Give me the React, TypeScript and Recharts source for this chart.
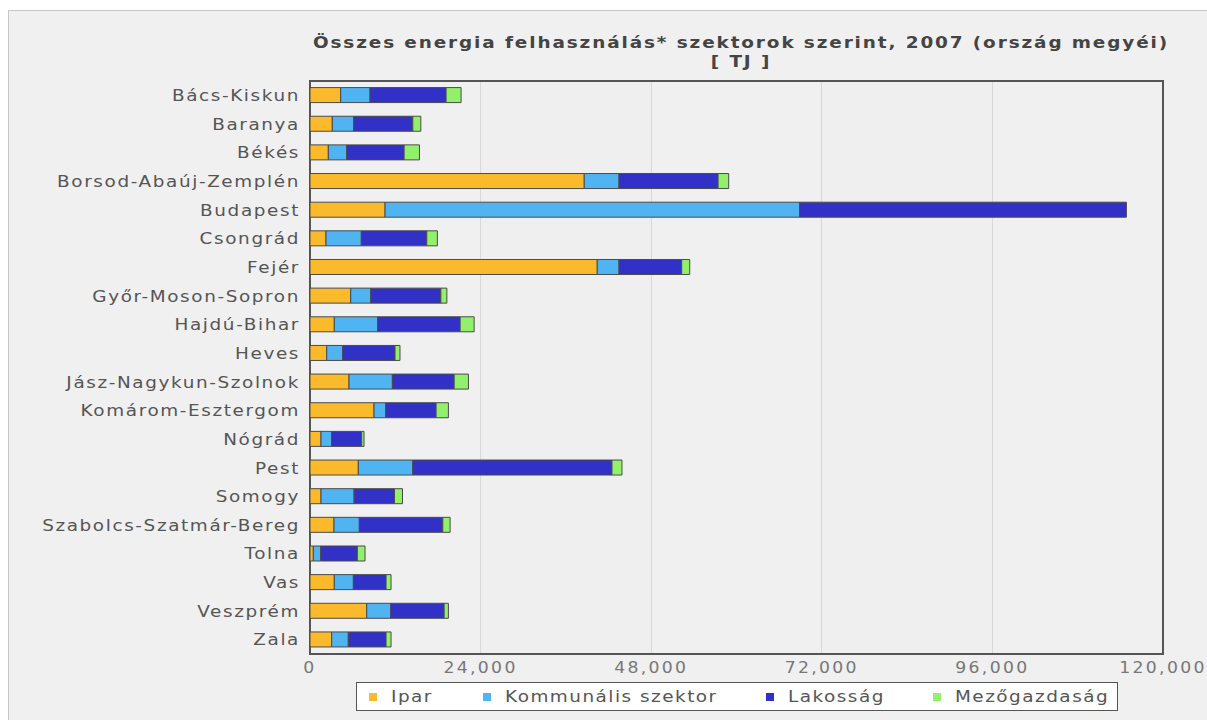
import React from 'react';
import { BarChart, Bar, XAxis, YAxis, CartesianGrid, ReferenceArea } from 'recharts';

// Counties of Hungary (plus Budapest)
const counties = [
  'Bács-Kiskun',
  'Baranya',
  'Békés',
  'Borsod-Abaúj-Zemplén',
  'Budapest',
  'Csongrád',
  'Fejér',
  'Győr-Moson-Sopron',
  'Hajdú-Bihar',
  'Heves',
  'Jász-Nagykun-Szolnok',
  'Komárom-Esztergom',
  'Nógrád',
  'Pest',
  'Somogy',
  'Szabolcs-Szatmár-Bereg',
  'Tolna',
  'Vas',
  'Veszprém',
  'Zala',
];

// Energy use by sector, TJ
const ipar = [4320, 3140, 2580, 38580, 10560, 2250, 40410, 5730, 3420, 2350, 5490, 9010, 1550, 6800, 1550, 3380, 470, 3420, 7980, 3050];
const kommunalis = [4125, 3010, 2590, 4890, 58330, 4970, 3060, 2820, 6110, 2250, 6100, 1650, 1500, 7660, 4650, 3560, 1040, 2680, 3380, 2340];
const lakossag = [10700, 8310, 8070, 13940, 45960, 9210, 8820, 9860, 11590, 7360, 8690, 7080, 4220, 28020, 5680, 11740, 5150, 4600, 7510, 5310];
const mezogazdasag = [2110, 1130, 2160, 1490, 0, 1490, 1130, 845, 1970, 700, 2010, 1730, 330, 1410, 1130, 1030, 1080, 700, 600, 700];

const xTicks = [0, 24000, 48000, 72000, 96000, 120000];

const seriesNames = ['Ipar', 'Kommunális szektor', 'Lakosság', 'Mezőgazdaság'];
const seriesKeys = ['ipar', 'kommunalis', 'lakossag', 'mezogazdasag'];
const seriesColors = ['#FBBA2B', '#50B4F2', '#3131C8', '#92F06C'];

const titleLine1 = 'Összes energia felhasználás* szektorok szerint, 2007 (ország megyéi)';
const titleLine2 = '[ TJ ]';

const data = counties.map((name, i) => ({
  name,
  ipar: ipar[i],
  kommunalis: kommunalis[i],
  lakossag: lakossag[i],
  mezogazdasag: mezogazdasag[i],
}));

// every second interval between ticks is shaded
const shadedBands = xTicks.slice(0, -1).map((t, i) => [t, xTicks[i + 1]]).filter((_, i) => i % 2 === 1);

const FONT = '"DejaVu Sans", Verdana, sans-serif';
const STRETCH = 1.15; // wide Verdana-like lettering

const formatThousands = (v: number) => v.toLocaleString('en-US');

// left offsets of the legend entries inside the legend box
const legendOffsets = [12, 126, 409, 576];

const CategoryTick = (props: any) => {
  const { x, y, payload } = props;
  return (
    <text
      transform={`translate(${x},${y}) scale(${STRETCH},1)`}
      textAnchor="end"
      dy="0.36em"
      fill="#555"
      fontSize={16}
      fontFamily={FONT}
      letterSpacing={1.4}
    >
      {payload.value}
    </text>
  );
};

const ValueTick = (props: any) => {
  const { x, y, payload } = props;
  return (
    <text
      transform={`translate(${x},${y}) scale(${STRETCH},1)`}
      textAnchor="middle"
      dy="0.75em"
      fill="#777"
      fontSize={15}
      fontFamily={FONT}
      letterSpacing={2}
    >
      {formatThousands(payload.value)}
    </text>
  );
};

export default function App() {
  return (
    <div
      style={{
        position: 'absolute',
        left: 0,
        top: 0,
        width: 1207,
        height: 720,
        overflow: 'hidden',
        background: '#ffffff',
        fontFamily: FONT,
      }}
    >
      {/* panel */}
      <div
        style={{
          position: 'absolute',
          left: 8,
          top: 10,
          width: 1220,
          height: 740,
          background: '#f0f0f0',
          border: '1px solid #c6c6c6',
        }}
      />

      {/* title */}
      <div
        style={{
          position: 'absolute',
          left: 241,
          width: 1000,
          top: 33,
          textAlign: 'center',
          fontWeight: 'bold',
          fontSize: 16,
          letterSpacing: 1.65,
          color: '#444',
          lineHeight: '19px',
          transform: `scaleX(${STRETCH})`,
          transformOrigin: '500px 0',
        }}
      >
        <div>{titleLine1}</div>
        <div>{titleLine2}</div>
      </div>

      <div style={{ position: 'absolute', left: 0, top: 0 }}>
        <BarChart
          width={1207}
          height={720}
          data={data}
          layout="vertical"
          margin={{ top: 81, right: 44, bottom: 46, left: 0 }}
          barCategoryGap="23%"
        >
          {shadedBands.map(([a, b]) => (
            <ReferenceArea key={`band-${a}`} x1={a} x2={b} fill="#efefef" fillOpacity={1} stroke="none" />
          ))}
          <CartesianGrid horizontal={false} stroke="#c4c4c4" fill="none" />
          <XAxis
            type="number"
            domain={[0, 120000]}
            ticks={xTicks}
            tickFormatter={formatThousands}
            axisLine={false}
            tickLine={false}
            tickSize={5}
            tickMargin={3}
            height={20}
            tick={<ValueTick />}
            interval={0}
          />
          <YAxis
            type="category"
            dataKey="name"
            width={310}
            axisLine={false}
            tickLine={false}
            tickSize={8}
            tickMargin={2}
            interval={0}
            tick={<CategoryTick />}
          />
          {seriesKeys.map((k, i) => (
            <Bar
              key={k}
              dataKey={k}
              name={seriesNames[i]}
              stackId="total"
              fill={seriesColors[i]}
              stroke="#4a4a4a"
              strokeWidth={1}
              isAnimationActive={false}
            />
          ))}
          <ReferenceArea
            x1={0}
            x2={120000}
            fill="none"
            fillOpacity={0}
            stroke="#555"
            strokeWidth={2}
            ifOverflow="visible"
          />
        </BarChart>
      </div>

      {/* legend */}
      <div
        style={{
          position: 'absolute',
          left: 356,
          top: 682,
          width: 760,
          height: 27,
          background: '#ffffff',
          border: '1px solid #555',
          fontSize: 16,
          letterSpacing: 1.3,
          color: '#555',
        }}
      >
        {seriesNames.map((n, i) => (
          <div
            key={n}
            style={{
              position: 'absolute',
              left: legendOffsets[i],
              top: 0,
              height: 27,
              display: 'flex',
              alignItems: 'center',
              whiteSpace: 'nowrap',
            }}
          >
            <span
              style={{
                display: 'inline-block',
                width: 8,
                height: 8,
                background: seriesColors[i],
                marginRight: 14,
              }}
            />
            <span
              style={{
                display: 'inline-block',
                transform: `scaleX(${STRETCH})`,
                transformOrigin: '0 50%',
              }}
            >
              {n}
            </span>
          </div>
        ))}
      </div>
    </div>
  );
}
